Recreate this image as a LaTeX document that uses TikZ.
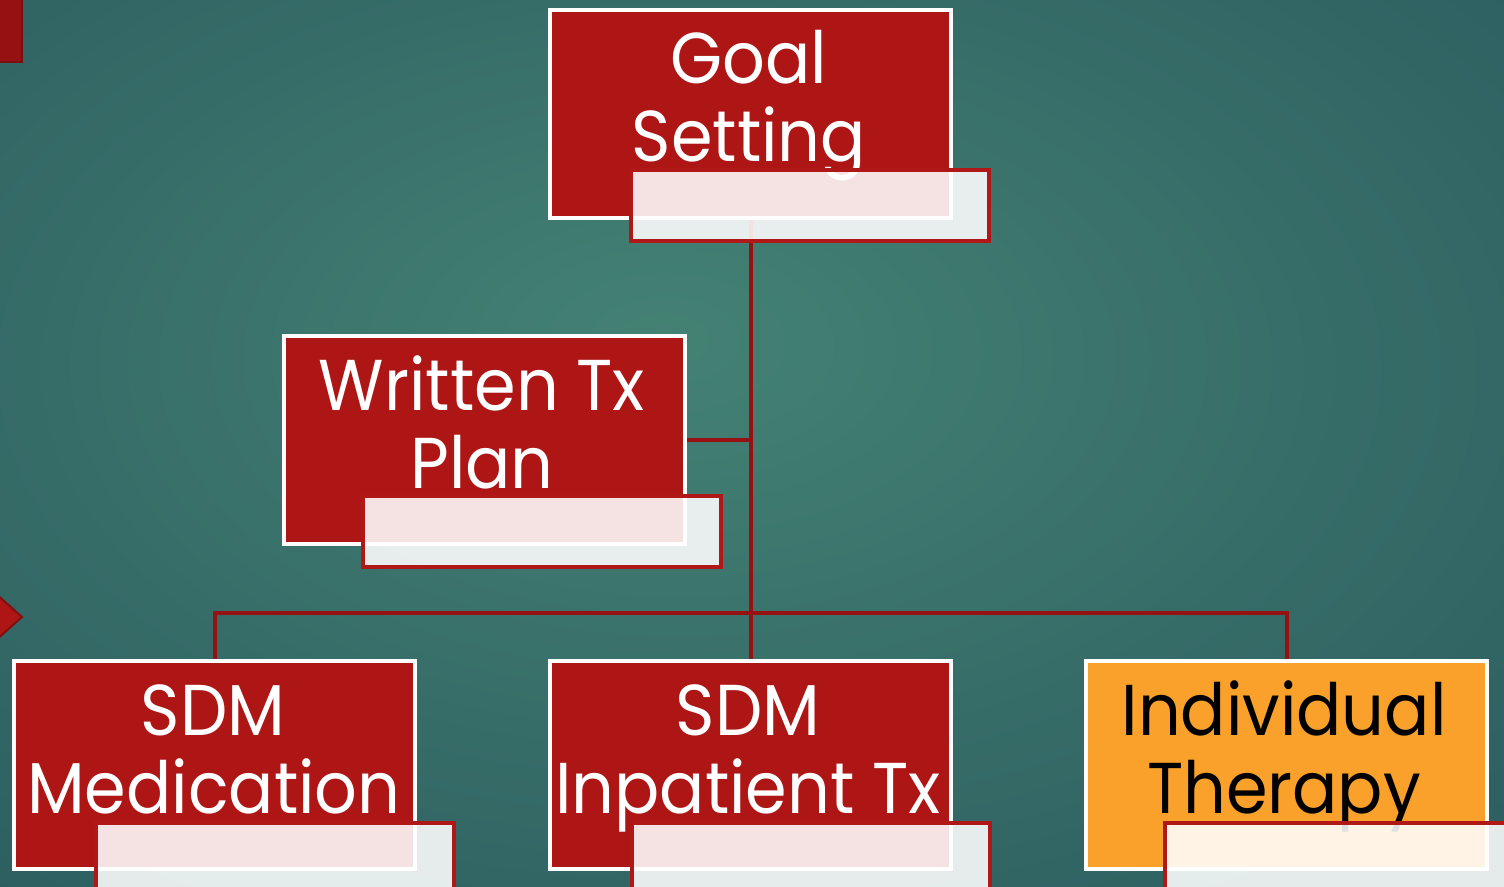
\documentclass[tikz,border=0pt]{standalone}
\usepackage{fontspec}
\setmainfont{Poppins}[FakeStretch=0.93]
\definecolor{bgin}{RGB}{68,130,116}
\definecolor{bgmid}{RGB}{54,108,104}
\definecolor{bgout}{RGB}{36,82,89}
\definecolor{boxred}{RGB}{174,21,21}
\definecolor{connred}{RGB}{150,18,18}
\definecolor{lblred}{RGB}{176,24,24}
\definecolor{boxorange}{RGB}{249,161,42}
\pgfdeclareradialshading{bgshade}{\pgfpoint{-3bp}{6bp}}{color(0bp)=(bgin); color(22bp)=(bgmid); color(52bp)=(bgout); color(75bp)=(bgout)}
\tikzset{
  box/.style={rectangle, anchor=north west, inner sep=0pt, minimum width=200.5pt, minimum height=104pt, draw=white, line width=2pt, fill=boxred},
  orangebox/.style={box, fill=boxorange},
  lblbox/.style={rectangle, anchor=north west, inner sep=0pt, minimum width=179pt, minimum height=35.5pt, draw=lblred, line width=2pt, fill=white, fill opacity=0.88},
  txt/.style={anchor=base, inner sep=0pt, text=white, font=\fontsize{36pt}{39pt}\selectfont},
  btxt/.style={txt, text=black},
  conn/.style={draw=connred, line width=2pt}
}
\begin{document}
\begin{tikzpicture}[x=0.5pt, y=-0.5pt]
\useasboundingbox (0,0) rectangle (1504,887);
\clip (0,0) rectangle (1504,887);
\shade[shading=bgshade] (0,0) rectangle (1504,887);
% decorative shapes at left edge
\fill[fill=connred, draw=black!20!connred, line width=0.8pt] (-5,-5) rectangle (22,62);
\fill[fill=boxred, draw=black!25!boxred, line width=1pt] (-5,593) -- (22,617) -- (-5,641) -- cycle;
% box positions
\path
  (548,8) node[box, draw=none, fill=none] (goal) {}
  (282,334) node[box, draw=none, fill=none] (written) {}
  (12,659) node[box, draw=none, fill=none] (med) {}
  (548,659) node[box, draw=none, fill=none] (inpat) {}
  (1084,659) node[box, draw=none, fill=none] (indiv) {};
% connectors
\draw[conn] (goal.south) -- (inpat.north);
\draw[conn] (written.east) -- (written.east -| goal.south);
\draw[conn] (med.north) -- ++(0,-46) -| (indiv.north);
% boxes
\node[box] (goalb) at (548,8) {};
\node[box] (writtenb) at (282,334) {};
\node[box] (medb) at (12,659) {};
\node[box] (inpatb) at (548,659) {};
\node[orangebox] (indivb) at (1084,659) {};
% texts
\node[txt] (g1) at (749,84) {Goal};
\node[txt] (g2) at (749,162) {Setting};
\node[txt] (w1) at (482,410) {Written Tx};
\node[txt] (w2) at (482,488) {Plan};
\node[txt] (m1) at (213,735) {SDM};
\node[txt] (m2) at (214,813) {Medication};
\node[txt] (p1) at (748,735) {SDM};
\node[txt] (p2) at (748,813) {Inpatient Tx};
\node[btxt] (i1) at (1284,735) {Individual};
\node[btxt] (i2) at (1284,813) {Therapy};
% label boxes
\node[lblbox] (goall) at (629,168) {};
\node[lblbox] (writtenl) at (361,494) {};
\node[lblbox] (medl) at (94,821) {};
\node[lblbox] (inpatl) at (630,821) {};
\node[lblbox, minimum height=50pt] (indivl) at (1163,821) {};
\end{tikzpicture}
\end{document}
